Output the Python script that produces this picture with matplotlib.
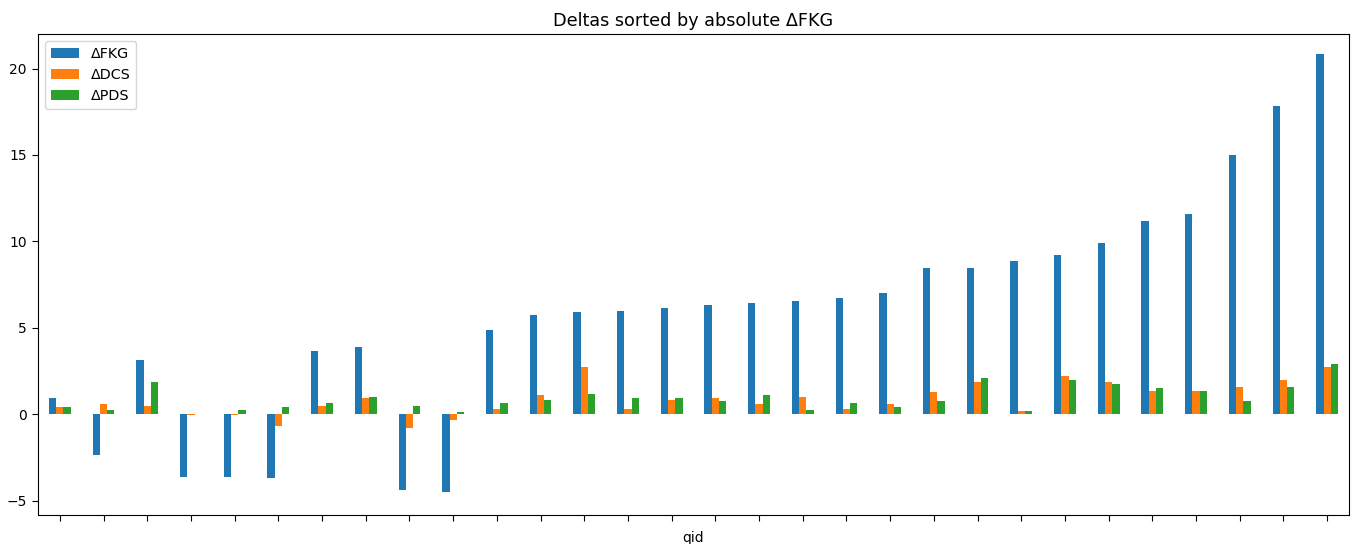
import numpy as np
import matplotlib
matplotlib.use("Agg")
import matplotlib.pyplot as plt

# values, already sorted by |dFKG|
d_fkg = [0.95, -2.38, 3.16, -3.6, -3.6, -3.7, 3.66, 3.92, -4.4, -4.48,
         4.87, 5.72, 5.9, 5.97, 6.15, 6.32, 6.42, 6.57, 6.75, 7.0,
         8.45, 8.45, 8.88, 9.2, 9.9, 11.18, 11.6, 15.0, 17.85, 20.85]
d_dcs = [0.41, 0.6, 0.5, -0.05, -0.05, -0.68, 0.5, 0.95, -0.77, -0.33,
         0.33, 1.1, 2.73, 0.33, 0.84, 0.93, 0.58, 1.03, 0.33, 0.58,
         1.28, 1.88, 0.17, 2.21, 1.88, 1.36, 1.36, 1.61, 1.96, 2.72]
d_pds = [0.41, 0.26, 1.88, 0.0, 0.26, 0.43, 0.68, 1.01, 0.5, 0.16,
         0.66, 0.84, 1.18, 0.93, 0.93, 0.76, 1.1, 0.26, 0.66, 0.42,
         0.78, 2.13, 0.17, 1.96, 1.78, 1.53, 1.36, 0.78, 1.61, 2.9]
series_labels = ["\u0394FKG", "\u0394DCS", "\u0394PDS"]
colors = ["#1f77b4", "#ff7f0e", "#2ca02c"]

fig = plt.figure(figsize=(13.57, 5.44), dpi=100)
ax = fig.add_axes([0.028, 0.054, 0.9661, 0.8836])

x = np.arange(len(d_fkg))
w = 0.5 / 3
for i, (vals, lab, col) in enumerate(zip([d_fkg, d_dcs, d_pds], series_labels, colors)):
    ax.bar(x + (i - 1) * w, vals, width=w, color=col, label=lab)

ax.set_xlim(-0.5, len(d_fkg) - 0.5)
ax.set_ylim(-5.8, 22.0)
ax.set_xticks(x)
ax.set_xticklabels([""] * len(x))
ax.set_yticks([-5, 0, 5, 10, 15, 20])
ax.tick_params(labelsize=10, length=4.5)
ax.set_xlabel("qid", fontsize=10)
ax.set_title("Deltas sorted by absolute \u0394FKG", fontsize=12.7)
ax.legend(loc="upper left", fontsize=10.3)

fig.savefig("out.png", dpi=100)
